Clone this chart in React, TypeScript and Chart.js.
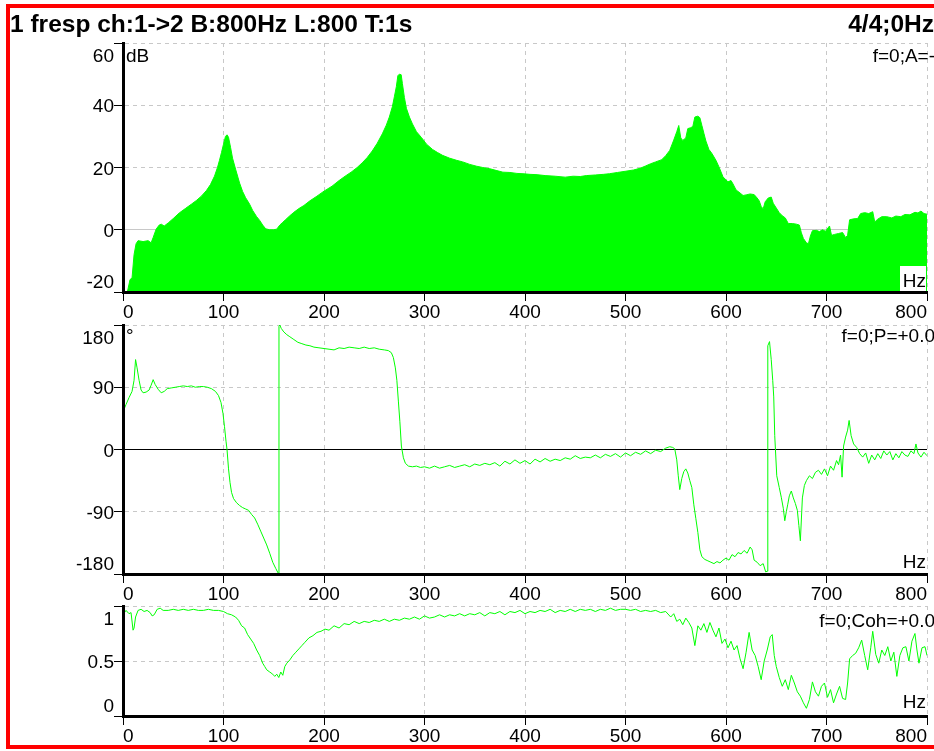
import React, { useEffect, useRef } from "react";
import { Chart, registerables } from "chart.js";

Chart.register(...registerables);

const FONT = '"Liberation Sans", Arial, Helvetica, sans-serif';
const GREEN = "#00ff00";
const GRID = "#c8c8c8";

// ---------- texts ----------
const titleText = "1 fresp ch:1->2 B:800Hz L:800 T:1s";
const statusText = "4/4;0Hz";
const magCursorText = "f=0;A=-";
const phaseCursorText = "f=0;P=+0.0";
const cohCursorText = "f=0;Coh=+0.0";
const magUnit = "dB";
const phaseUnit = "°";
const freqUnit = "Hz";

// ---------- ticks ----------
const freqTickValues = [0, 100, 200, 300, 400, 500, 600, 700, 800];
const freqTickLabels = ["0", "100", "200", "300", "400", "500", "600", "700", "800"];
const magTickValues = [-20, 0, 20, 40, 60];
const magTickLabels = ["-20", "0", "20", "40", "60"];
const phaseTickValues = [-180, -90, 0, 90, 180];
const phaseTickLabels = ["-180", "-90", "0", "90", "180"];
const cohTickValues = [0, 0.5, 1];
const cohTickLabels = ["0", "0.5", "1"];

// ---------- magnitude (dB) ----------
const magFreq = [
  0, 3, 5, 7, 9, 11, 13, 15, 20, 25,
  28, 30, 33, 36, 38, 41, 45, 50, 56, 62,
  68, 73, 78, 83, 87, 91, 94, 96, 98, 100,
  102, 103.5, 105, 107, 109, 112, 116, 119, 122, 126,
  129, 133, 136, 139, 142, 146, 150, 153, 156, 159,
  162, 166, 170, 175, 180, 186, 193, 200, 208, 215,
  221, 227, 233, 238, 243, 248, 253, 258, 262, 265,
  268, 270, 272, 273.5, 275, 276.8, 278, 280, 282, 285,
  288, 292, 297, 302, 308, 313, 318, 325, 332, 338,
  345, 352, 358, 365, 372, 378, 385, 392, 398, 405,
  412, 420, 430, 440, 448, 455, 461, 470, 478, 484,
  492, 500, 508, 515, 520, 525, 530, 536, 540, 544,
  548, 551, 553, 555, 557, 560, 562, 565, 567, 569,
  572, 574, 576, 578, 580, 583, 586, 590, 593, 597,
  600, 602, 605, 607, 610, 614, 617, 620, 624, 628,
  631, 633, 635, 637, 639, 642, 645, 647, 650, 653,
  656, 659, 662, 666, 670, 673, 675, 677, 680, 682,
  684, 686, 690, 693, 696, 699, 703, 705, 708, 712,
  716, 719, 721, 723, 727, 731, 734, 738, 742, 746,
  748, 751, 755, 760, 765, 769, 774, 778, 783, 788,
  791, 794, 797, 800,
];
const magDb = [
  -30, -22, -19, -16, -15.5, -8, -4.5, -3.5, -3.8, -3.5,
  -4.2, -2.5, 0.2, 1.5, 1.8, 1.2, 2.2, 3.6, 5.4, 6.8,
  8.2, 9.4, 10.8, 12.6, 14.5, 17.2, 20, 22.3, 24.8, 27.5,
  30, 30.5, 29.7, 26.5, 23, 19.5, 15, 12.3, 10.3, 8.2,
  6.2, 4.2, 3, 1.5, 0.3, 0, 0, 0.2, 1.5, 2.4,
  3.3, 4.5, 5.6, 6.8, 7.8, 9.3, 10.8, 12.4, 14, 15.8,
  17.2, 18.5, 20, 21.5, 23.2, 25.3, 27.8, 30.8, 33.6, 36.2,
  39.5, 42.7, 46, 49.5, 50, 49.8, 47, 42.5, 39, 36.2,
  34, 31.5, 29.6, 27.5, 25.8, 24.8, 23.9, 23, 22.3, 21.8,
  21, 20.4, 20, 19.6, 19, 18.5, 18.4, 18.1, 18, 17.8,
  17.7, 17.4, 17.2, 16.9, 17.2, 17.1, 17.4, 17.6, 17.8, 18,
  18.4, 18.8, 19.2, 19.8, 20.5, 21.2, 21.8, 22.5, 23.8, 25.5,
  28.8, 31.5, 33.5, 29.5, 28.7, 29.5, 32.5, 32.8, 33.2, 36.2,
  36.5, 36, 33.5, 31, 28.5, 25.8, 24.5, 22.3, 20.2, 17,
  16, 15.4, 15.8, 14.7, 12.8, 11.8, 11, 11.2, 11.5, 11.3,
  10.2, 9.3, 7.5, 6.7, 9, 10.2, 10.5, 8.5, 7, 5.5,
  4.5, 3.8, 2, 2, 1.8, 1.5, -1, -2.8, -4.2, -4.5,
  -2, -0.3, -0.2, -0.6, 0, -0.5, 1.2, -1.8, -1.5, -1.2,
  -0.9, -2.5, -1.8, 3.2, 3.5, 3.6, 5.2, 5.5, 5.2, 5.8,
  2.5, 3.4, 4.2, 4.2, 3.8, 4.4, 4.2, 4.9, 4.8, 5.6,
  5.4, 6, 5.2, 5,
];

// ---------- phase (deg) ----------
const phaseFreq = [
  0, 1, 3, 6, 9, 11, 12.5, 14, 16, 18,
  20, 23, 26, 28, 30, 32, 35, 38, 41, 44,
  48, 52, 56, 60, 64, 68, 72, 76, 80, 84,
  88, 92, 95, 97.5, 99.5, 101, 102.5, 103.5, 105, 106.5,
  108, 110, 113, 116, 119, 122, 125, 128, 131, 134,
  137, 140, 143, 146, 149, 152, 154.5, 155.2, 156, 157.5,
  160, 163, 166, 170, 174, 178, 182, 186, 190, 195,
  200, 205, 210, 215, 220, 225, 230, 235, 240, 245,
  250, 255, 260, 264, 267, 269, 271, 272.5, 274, 275.5,
  277, 279, 281, 284, 288, 292, 296, 300, 305, 310,
  315, 320, 325, 330, 335, 340, 345, 350, 355, 360,
  365, 370, 375, 380, 385, 390, 395, 400, 405, 410,
  415, 420, 425, 430, 435, 440, 445, 450, 455, 460,
  465, 470, 475, 480, 485, 490, 495, 500, 505, 510,
  515, 520, 525, 530, 535, 540, 544, 547, 549, 551,
  552.5, 554, 556, 558, 560, 562, 564, 566, 568, 570,
  572, 574, 576, 579, 582, 585, 588, 591, 594, 597,
  600, 603, 606, 609, 612, 615, 618, 621, 624, 626,
  628, 631, 634, 637, 639.5, 641, 641.6, 643.3, 645, 646.5,
  647.5, 648.5, 650.5, 653, 655, 657, 658.5, 660, 661.5, 663,
  665, 667, 669, 671, 672.5, 674, 676, 678, 680, 683,
  686, 689, 692, 695, 698, 701, 704, 707, 710, 712,
  714, 715.5, 717, 719, 721, 722.5, 724.5, 727, 730, 733,
  736, 739, 742, 745, 748, 751, 754, 757, 760, 763,
  766, 769, 772, 775, 778, 781, 784, 787, 789, 791,
  794, 797, 800,
];
const phaseDeg = [
  45, 58, 65, 75, 84, 100, 130, 118, 100, 86,
  82, 83, 86, 93, 101, 94, 87, 82, 84, 88,
  89, 90, 91, 92, 91, 92, 90, 91, 91, 90,
  88, 84, 78, 68, 52, 33, 12, 0, -28, -48,
  -62, -71, -77, -81, -84, -86, -88, -94, -99, -108,
  -118, -128, -138, -150, -163, -172, -179, 178, 180, 175,
  170, 166, 163, 159, 155, 153, 151, 150, 148, 147,
  146, 145, 144, 147, 146, 148, 147, 146, 148, 146,
  147, 145, 144, 143, 140, 133, 118, 100, 70, 40,
  5, -12, -20, -24, -25, -24, -26, -25, -27, -24,
  -27, -25, -23, -26, -24, -22, -25, -21, -23, -20,
  -22, -19, -24, -17, -21, -15, -20, -16, -21, -14,
  -18, -13, -17, -14, -16, -12, -14, -9, -13, -11,
  -12, -8, -12, -7, -10, -6, -11, -5, -9, -4,
  -7, -2, -6, -1, -3, 2, 4, 3, 1, -15,
  -38, -58, -42, -32, -28, -34, -45, -55, -80, -100,
  -120, -145, -155, -159, -161, -163, -165, -162, -164, -160,
  -157, -160, -152, -155, -149, -151, -146, -150, -141, -145,
  -160, -163, -168, -165, -177, -176, 150, 156, 130, 100,
  76, 20, -38, -55, -69, -85, -103, -90, -79, -67,
  -60, -70, -78, -88, -110, -132, -70, -52, -45, -38,
  -42, -33, -30, -36, -28, -38, -24, -30, -16, -22,
  -8, -40, 5, 18, 28, 42, 20, 8, 3, -6,
  -11, -5, -20, -8, -15, -6, -13, -2, -8, -3,
  -15, -6, -12, -3, -8, -10, -2, -6, 8, -5,
  -11, -4, -9,
];

// ---------- coherence ----------
const cohFreq = [
  0, 3, 6, 8, 10, 11, 12.5, 15, 18, 21,
  24, 27, 29, 31, 34, 37, 40, 45, 50, 55,
  60, 65, 70, 75, 80, 85, 90, 95, 100, 104,
  108, 112, 115, 118, 121, 124, 127, 130, 133, 136,
  139, 141, 143, 146, 149, 151, 153, 155, 157, 159,
  161, 163, 166, 169, 172, 175, 178, 181, 185, 189,
  193, 197, 201, 205, 210, 215, 220, 225, 230, 235,
  240, 245, 250, 255, 260, 265, 270, 275, 280, 285,
  290, 295, 300, 305, 310, 315, 320, 325, 330, 335,
  340, 345, 350, 355, 360, 365, 370, 375, 380, 385,
  390, 395, 400, 405, 410, 415, 420, 425, 430, 435,
  440, 445, 450, 455, 460, 465, 470, 475, 480, 485,
  490, 495, 500, 505, 510, 515, 520, 525, 530, 535,
  540, 545, 548, 551, 554, 557, 560, 563, 566, 569,
  572, 575, 578, 581, 584, 587, 590, 593, 596, 599,
  602, 605, 608, 611, 614, 617, 620, 623, 626, 629,
  632, 635, 638, 641, 644, 646, 648, 650, 653, 656,
  659, 662, 665, 668, 671, 674, 677, 680, 683, 686,
  689, 692, 695, 698, 701, 704, 707, 710, 713, 716,
  719, 721, 723, 726, 729, 732, 735, 738, 741, 744,
  746, 749, 752, 755, 758, 761, 764, 767, 770, 773,
  776, 779, 782, 785, 788, 790, 792, 795, 798, 800,
];
const cohVal = [
  0.92, 0.96, 0.93, 0.94, 0.78, 0.8, 0.9, 0.96, 0.97, 0.95,
  0.96, 0.94, 0.91, 0.92, 0.97, 0.98, 0.96, 0.96, 0.97, 0.96,
  0.97, 0.96, 0.97, 0.96, 0.96, 0.97, 0.96, 0.96, 0.95, 0.93,
  0.92, 0.9, 0.87, 0.82, 0.8, 0.74, 0.7, 0.66, 0.6, 0.55,
  0.48, 0.45, 0.42, 0.4, 0.38, 0.36, 0.38, 0.35, 0.4, 0.37,
  0.45, 0.48, 0.51, 0.55, 0.58, 0.61, 0.64, 0.67, 0.71, 0.73,
  0.76, 0.77, 0.79, 0.78, 0.82, 0.8, 0.84, 0.83, 0.86, 0.84,
  0.86, 0.85, 0.87, 0.86, 0.88, 0.86, 0.88, 0.87, 0.89, 0.88,
  0.9, 0.88, 0.91, 0.89, 0.9, 0.92, 0.9, 0.92, 0.91, 0.93,
  0.91, 0.93, 0.92, 0.94, 0.91, 0.94, 0.93, 0.95, 0.92, 0.95,
  0.94, 0.96, 0.93, 0.95, 0.94, 0.96, 0.95, 0.97, 0.94, 0.96,
  0.95, 0.97, 0.95, 0.97, 0.96, 0.97, 0.95, 0.97, 0.96, 0.98,
  0.96, 0.97, 0.97, 0.96, 0.97, 0.95, 0.96, 0.95, 0.96, 0.94,
  0.95, 0.9, 0.93, 0.86, 0.88, 0.83, 0.89, 0.85, 0.8, 0.64,
  0.82, 0.78, 0.84, 0.76, 0.85, 0.78, 0.72, 0.8, 0.66, 0.7,
  0.62, 0.68, 0.6, 0.64, 0.52, 0.43, 0.58, 0.76, 0.6, 0.55,
  0.45, 0.33, 0.5, 0.6, 0.72, 0.74, 0.55, 0.45, 0.35, 0.27,
  0.33, 0.24, 0.37, 0.3, 0.22, 0.18, 0.12, 0.07, 0.15, 0.31,
  0.22, 0.18, 0.27, 0.3, 0.17, 0.24, 0.12, 0.2, 0.27, 0.16,
  0.15, 0.3, 0.52, 0.55, 0.57, 0.62, 0.69, 0.55, 0.42, 0.62,
  0.77, 0.56, 0.48, 0.6, 0.55, 0.63, 0.5, 0.58, 0.36, 0.55,
  0.62, 0.63, 0.5, 0.68, 0.75, 0.6, 0.48, 0.62, 0.63, 0.55,
];

// ---------- layout ----------
const AREA_LEFT = 123;
const AREA_RIGHT_PAD = 7;
const Y_LABEL_RIGHT = 114;

interface TextItem {
  text: string;
  x: number;
  y: number;
  align: CanvasTextAlign;
  size: number;
  bold?: boolean;
  box?: number[];
}

interface Panel {
  top: number;
  height: number;
  areaTop: number;
  areaBottom: number;
  freq: number[];
  values: number[];
  fill: boolean;
  yMin: number;
  yMax: number;
  yTicks: number[];
  yLabels: string[];
  zeroColor: string;
  texts: TextItem[];
}

const panels: Panel[] = [
  {
    top: 0,
    height: 322,
    areaTop: 43,
    areaBottom: 292,
    freq: magFreq,
    values: magDb,
    fill: true,
    yMin: -20,
    yMax: 60,
    yTicks: magTickValues,
    yLabels: magTickLabels,
    zeroColor: GRID,
    texts: [
      { text: titleText, x: 10, y: 32, align: "left", size: 24.5, bold: true },
      { text: statusText, x: 934, y: 32, align: "right", size: 24.5, bold: true },
      { text: magUnit, x: 126, y: 62, align: "left", size: 19 },
      { text: magCursorText, x: 935, y: 62, align: "right", size: 19 },
      { text: freqUnit, x: 926, y: 287, align: "right", size: 19, box: [900, 266, 26, 25] },
    ],
  },
  {
    top: 322,
    height: 282,
    areaTop: 325,
    areaBottom: 574,
    freq: phaseFreq,
    values: phaseDeg,
    fill: false,
    yMin: -180,
    yMax: 180,
    yTicks: phaseTickValues,
    yLabels: phaseTickLabels,
    zeroColor: "#000000",
    texts: [
      { text: phaseUnit, x: 126, y: 342, align: "left", size: 19 },
      { text: phaseCursorText, x: 935, y: 342, align: "right", size: 19 },
      { text: freqUnit, x: 926, y: 568, align: "right", size: 19, box: [900, 548, 26, 24] },
    ],
  },
  {
    top: 604,
    height: 147,
    areaTop: 606,
    areaBottom: 716,
    freq: cohFreq,
    values: cohVal,
    fill: false,
    yMin: 0,
    yMax: 1,
    yTicks: cohTickValues,
    yLabels: cohTickLabels,
    zeroColor: GRID,
    texts: [
      { text: cohCursorText, x: 935, y: 627, align: "right", size: 19 },
      { text: freqUnit, x: 926, y: 708, align: "right", size: 19, box: [900, 688, 26, 24] },
    ],
  },
];

function overlayPlugin(p: Panel) {
  return {
    id: "overlay",
    afterDraw(chart: any) {
      const ctx = chart.ctx as CanvasRenderingContext2D;
      const ys = chart.scales.y;
      ctx.save();
      ctx.fillStyle = "#000";
      ctx.font = `19px ${FONT}`;
      ctx.textAlign = "right";
      ctx.textBaseline = "alphabetic";
      p.yTicks.forEach((v, i) => {
        const py = ys.getPixelForValue(v);
        let by = py + 7;
        if (v === p.yMax) by = py + 19;
        else if (v === p.yMin) by = py - 4;
        ctx.fillText(p.yLabels[i], Y_LABEL_RIGHT, by);
      });
      for (const t of p.texts) {
        if (t.box) {
          ctx.fillStyle = "#ffffff";
          ctx.fillRect(t.box[0], t.box[1] - p.top, t.box[2], t.box[3]);
        }
        ctx.fillStyle = "#000";
        ctx.font = `${t.bold ? "bold " : ""}${t.size}px ${FONT}`;
        ctx.textAlign = t.align;
        ctx.fillText(t.text, t.x, t.y - p.top);
      }
      ctx.restore();
    },
  };
}

function buildChart(canvas: HTMLCanvasElement, p: Panel) {
  const n = Math.min(p.freq.length, p.values.length);
  const points = [];
  for (let i = 0; i < n; i++) points.push({ x: p.freq[i], y: p.values[i] });
  const isZero = (c: any) => c && c.tick && c.tick.value === 0;
  return new Chart(canvas, {
    type: "line",
    data: {
      datasets: [
        {
          data: points,
          borderColor: GREEN,
          backgroundColor: GREEN,
          borderWidth: 1,
          pointRadius: 0,
          pointHoverRadius: 0,
          tension: 0,
          fill: p.fill ? "start" : false,
        },
      ],
    },
    options: {
      animation: false,
      responsive: false,
      devicePixelRatio: 1,
      events: [],
      layout: { padding: { top: p.areaTop - p.top, right: AREA_RIGHT_PAD, left: 0, bottom: 0 } },
      plugins: {
        legend: { display: false },
        tooltip: { enabled: false },
        title: { display: false },
      },
      scales: {
        x: {
          type: "linear",
          position: "bottom",
          min: 0,
          max: 800,
          afterBuildTicks: (s: any) => {
            s.ticks = freqTickValues.map((v) => ({ value: v }));
          },
          afterFit: (s: any) => {
            s.height = p.top + p.height - p.areaBottom;
          },
          ticks: {
            autoSkip: false,
            maxRotation: 0,
            minRotation: 0,
            align: "inner",
            padding: 0,
            color: "#000",
            font: { family: FONT, size: 19 },
            callback: (_v: any, i: number) => freqTickLabels[i],
          },
          grid: {
            color: GRID,
            lineWidth: 1,
            tickLength: 9,
            tickColor: "#000",
            tickWidth: 1,
          },
          border: { display: true, color: "#000", width: 3, dash: [4, 4], z: 1 },
        },
        y: {
          type: "linear",
          position: "left",
          min: p.yMin,
          max: p.yMax,
          afterBuildTicks: (s: any) => {
            s.ticks = p.yTicks.map((v) => ({ value: v }));
          },
          afterFit: (s: any) => {
            s.width = AREA_LEFT;
          },
          ticks: { display: false },
          grid: {
            color: (c: any) => (isZero(c) ? p.zeroColor : GRID),
            lineWidth: 1,
            tickLength: 9,
            tickColor: "#000",
            tickWidth: 1,
          },
          border: {
            display: true,
            color: "#000",
            width: 3,
            dash: (c: any) => (isZero(c) ? [] : [4, 4]),
            z: 1,
          },
        },
      },
    } as any,
    plugins: [overlayPlugin(p)],
  });
}

export default function App() {
  const refs = useRef<(HTMLCanvasElement | null)[]>([]);

  useEffect(() => {
    const charts = panels.map((p, i) => buildChart(refs.current[i] as HTMLCanvasElement, p));
    return () => {
      charts.forEach((c) => c.destroy());
    };
  }, []);

  return (
    <div
      style={{
        position: "fixed",
        left: 0,
        top: 0,
        width: 934,
        height: 751,
        background: "#ffffff",
        overflow: "hidden",
      }}
    >
      {panels.map((p, i) => (
        <canvas
          key={i}
          ref={(el) => {
            refs.current[i] = el;
          }}
          width={934}
          height={p.height}
          style={{ position: "absolute", left: 0, top: p.top, width: 934, height: p.height }}
        />
      ))}
      <div
        style={{
          position: "absolute",
          left: 6,
          top: 4,
          width: 1000,
          height: 745,
          border: "4px solid #ff0000",
          boxSizing: "border-box",
          pointerEvents: "none",
        }}
      />
    </div>
  );
}
